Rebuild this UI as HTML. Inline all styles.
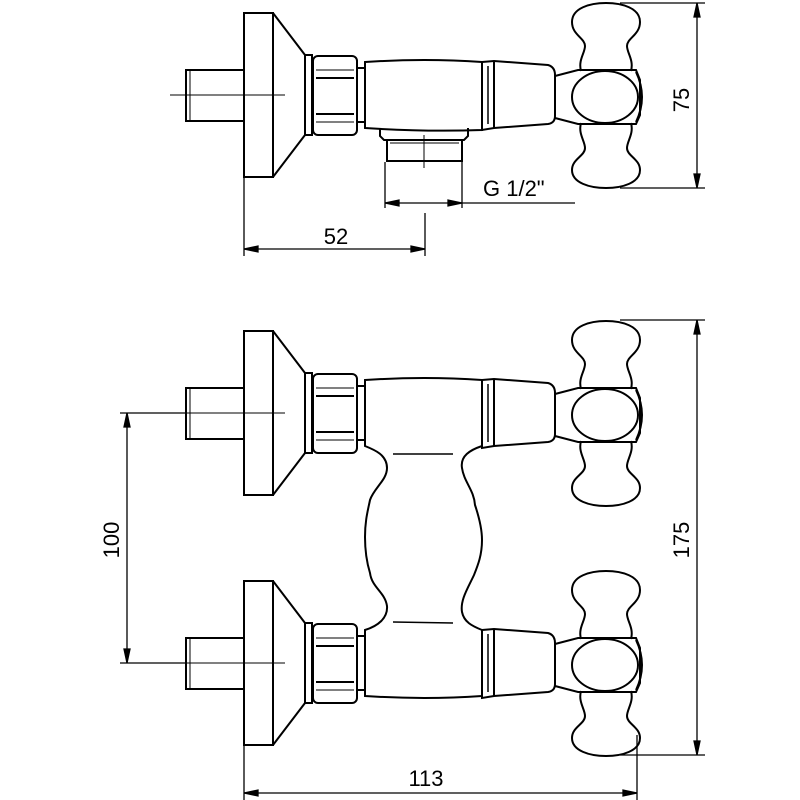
<!DOCTYPE html>
<html><head><meta charset="utf-8"><style>html,body{margin:0;padding:0;background:#fff}svg{display:block}</style></head>
<body>
<svg width="800" height="800" viewBox="0 0 800 800" xmlns="http://www.w3.org/2000/svg" font-family="Liberation Sans, sans-serif">
<defs>
<g id="unit" fill="none" stroke="#000" stroke-width="2">
  <rect x="186" y="70" width="58" height="51"/>
  <line x1="190" y1="71" x2="190" y2="120" stroke-width="1"/>
  <line x1="170" y1="95" x2="285" y2="95" stroke-width="1"/>
  <rect x="244" y="13" width="29" height="164"/>
  <polyline points="273,13 305,55 305,135 273,177"/>
  <rect x="305" y="55" width="7" height="80"/>
  <rect x="313" y="56" width="44" height="79" rx="5"/>
  <line x1="316" y1="70" x2="354" y2="70" stroke-width="1"/>
  <line x1="316" y1="78" x2="354" y2="78"/>
  <line x1="316" y1="114" x2="354" y2="114"/>
  <line x1="316" y1="122" x2="354" y2="122" stroke-width="1"/>
  <rect x="357" y="68" width="8" height="54"/>
  <path d="M482,62 L494,61 L548,65 Q555,67 555,75 L555,116 Q555,123 548,124 L494,128 L482,130 Z"/>
  <line x1="494" y1="61" x2="494" y2="128"/>
  <line x1="488" y1="66" x2="488" y2="124" stroke-width="1.5"/>
  <path d="M555,76 L578,70 L636,70 L640,80 L640,115 L636,124 L578,124 L555,118"/>
  <ellipse cx="605" cy="97" rx="33" ry="26"/>
  <path d="M636,72 Q648,97 636,122"/>
  <path d="M581,71 C578,60 585,53 585,46 C585,38 572,35 572,22 C572,8 590,3 606,3 C622,3 640,8 640,22 C640,35 627,38 627,46 C627,53 634,60 631,71"/>
  <path d="M581,123 C578,134 585,141 585,148 C585,156 572,159 572,170 C572,183 590,188 606,188 C622,188 640,183 640,170 C640,159 627,156 627,148 C627,141 634,134 631,123"/>
</g>
</defs>

<use href="#unit"/>
<g fill="none" stroke="#000" stroke-width="2">
  <path d="M365,62 Q425,58 482,62 L482,130 Q425,132 365,128 Z"/>
  <path d="M380,128 L380,136 L384,140 L464,140 L468,136 L468,128"/>
  <rect x="387" y="140" width="75" height="21"/>
  <line x1="390" y1="143" x2="459" y2="143" stroke-width="1"/>
  <line x1="424" y1="135" x2="424" y2="168" stroke-width="1"/>
</g>
<g stroke="#000" stroke-width="1.3" fill="#000">
  <line x1="244" y1="178" x2="244" y2="256"/>
  <line x1="425" y1="213" x2="425" y2="256"/>
  <line x1="244" y1="249" x2="425" y2="249"/>
  <polygon points="244,249 258,246 258,252"/><polygon points="425,249 411,246 411,252"/>
  <line x1="385" y1="162" x2="385" y2="208"/>
  <line x1="462" y1="162" x2="462" y2="208"/>
  <line x1="385" y1="203" x2="575" y2="203"/>
  <polygon points="385,203 399,200 399,206"/><polygon points="462,203 448,200 448,206"/>
  <line x1="620" y1="3" x2="705" y2="3"/>
  <line x1="620" y1="188" x2="705" y2="188"/>
  <line x1="697" y1="3" x2="697" y2="188"/>
  <polygon points="697,3 694,17 700,17"/><polygon points="697,188 694,174 700,174"/>
</g>
<text x="336" y="244" font-size="22" text-anchor="middle">52</text>
<text x="483" y="196" font-size="22">G 1/2"</text>
<text transform="translate(689,100) rotate(-90)" font-size="22" text-anchor="middle">75</text>

<use href="#unit" transform="translate(0,318)"/>
<use href="#unit" transform="translate(0,568)"/>
<g fill="none" stroke="#000" stroke-width="2">
  <path d="M365,380 Q425,376 482,380 L482,446 C470,450 460,456 462,468 C464,482 474,490 475,505 C480,520 482,530 482,540 C482,555 478,565 474,575 C468,588 460,600 462,612 C464,622 472,626 482,630 L482,696 Q425,700 365,696 L365,630 C378,626 388,618 387,606 C385,592 372,588 370,573 C366,560 365,548 365,537 C365,520 368,510 370,500 C374,488 387,480 387,468 C387,455 375,450 365,446 Z"/>
  <line x1="393" y1="454" x2="453" y2="454" stroke-width="1.5"/>
  <line x1="393" y1="622" x2="453" y2="623" stroke-width="1.5"/>
</g>
<g stroke="#000" stroke-width="1.3" fill="#000">
  <line x1="120" y1="413" x2="185" y2="413"/>
  <line x1="120" y1="663" x2="185" y2="663"/>
  <line x1="127" y1="413" x2="127" y2="663"/>
  <polygon points="127,413 124,427 130,427"/><polygon points="127,663 124,649 130,649"/>
  <line x1="620" y1="320" x2="705" y2="320"/>
  <line x1="620" y1="755" x2="705" y2="755"/>
  <line x1="697" y1="320" x2="697" y2="755"/>
  <polygon points="697,320 694,334 700,334"/><polygon points="697,755 694,741 700,741"/>
  <line x1="244" y1="746" x2="244" y2="800"/>
  <line x1="637" y1="735" x2="637" y2="800"/>
  <line x1="244" y1="793" x2="637" y2="793"/>
  <polygon points="244,793 258,790 258,796"/><polygon points="637,793 623,790 623,796"/>
</g>
<text transform="translate(119,540) rotate(-90)" font-size="22" text-anchor="middle">100</text>
<text transform="translate(689,540) rotate(-90)" font-size="22" text-anchor="middle">175</text>
<text x="426" y="786" font-size="22" text-anchor="middle">113</text>
</svg>
</body></html>
